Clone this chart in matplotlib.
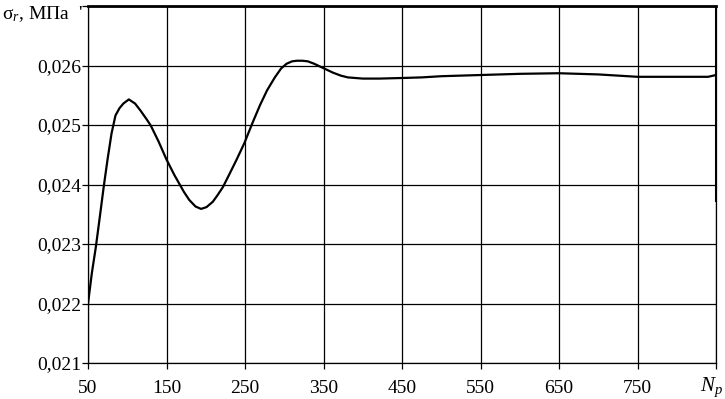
import matplotlib
matplotlib.use("Agg")
from matplotlib import pyplot as plt

plt.rcParams['font.family'] = ['Liberation Serif', 'DejaVu Serif']
plt.rcParams['mathtext.fontset'] = 'custom'
plt.rcParams['mathtext.rm'] = 'Liberation Serif'
plt.rcParams['mathtext.it'] = 'Liberation Serif:italic'

n_p = [50, 55, 60, 65, 70, 75, 80, 85, 90, 95, 102, 110, 117, 125, 130, 140,
       150, 160, 166, 172, 179, 187, 194, 201, 209, 215, 222, 230, 239, 249,
       260, 269, 278, 288, 296, 303, 310, 316, 323, 330, 338, 346, 354, 362,
       372, 381, 400, 421, 450, 475, 500, 550, 600, 650, 700, 725, 750, 800,
       840, 850]
sigma = [0.02200, 0.02252, 0.02295, 0.02345, 0.02396, 0.02443, 0.02486,
         0.02516, 0.02528, 0.02536, 0.02543, 0.02536, 0.02524, 0.02509,
         0.02499, 0.02472, 0.02442, 0.02416, 0.02402, 0.02388, 0.02374,
         0.02363, 0.02359, 0.02362, 0.02371, 0.02382, 0.02396, 0.02417,
         0.02441, 0.02469, 0.02505, 0.02533, 0.02558, 0.02580, 0.02595,
         0.02603, 0.02607, 0.02608, 0.02608, 0.02607, 0.02603, 0.02598,
         0.02593, 0.02588, 0.02583, 0.02580, 0.02578, 0.02578, 0.02579,
         0.02580, 0.02582, 0.02584, 0.02586, 0.02587, 0.02585, 0.02583,
         0.02581, 0.02581, 0.02581, 0.02584]

x_ticks = [50, 150, 250, 350, 450, 550, 650, 750, 850]
x_labels = ['50', '150', '250', '350', '450', '550', '650', '750', '']
y_ticks = [0.021, 0.022, 0.023, 0.024, 0.025, 0.026, 0.027]
y_labels = ['0,021', '0,022', '0,023', '0,024', '0,025', '0,026', '']

fig = plt.figure(figsize=(7.25, 3.99), dpi=100)
ax = fig.add_axes([88/725, 1-363/399, 628/725, 357/399])

ax.grid(color='black', linewidth=0.9, zorder=0)
ax.plot(n_p, sigma, color='black', linewidth=1.6, zorder=3)

ax.set_xlim(50, 850)
ax.set_ylim(0.021, 0.027)
ax.set_xticks(x_ticks)
ax.set_xticklabels(x_labels)
ax.set_yticks(y_ticks)
ax.set_yticklabels(y_labels)
ax.tick_params(direction='out', length=4, width=0.9, labelsize=14)
ax.tick_params(axis='x', pad=8)
ax.tick_params(axis='y', pad=1)

for s in ax.spines.values():
    s.set_linewidth(0.9)
ax.spines['top'].set_linewidth(2)
ax.axvline(850, ymin=0.457, ymax=1, color='black', linewidth=2.2, zorder=4)

# axis captions
fig.text(2/725, 1-14/399, r"σ$_r$, МПа  '", fontsize=14, va='center', ha='left')
fig.text(723/725, 1-387/399, r'$N_p$', fontsize=15, va='center', ha='right')

fig.savefig('out.png', dpi=100)
